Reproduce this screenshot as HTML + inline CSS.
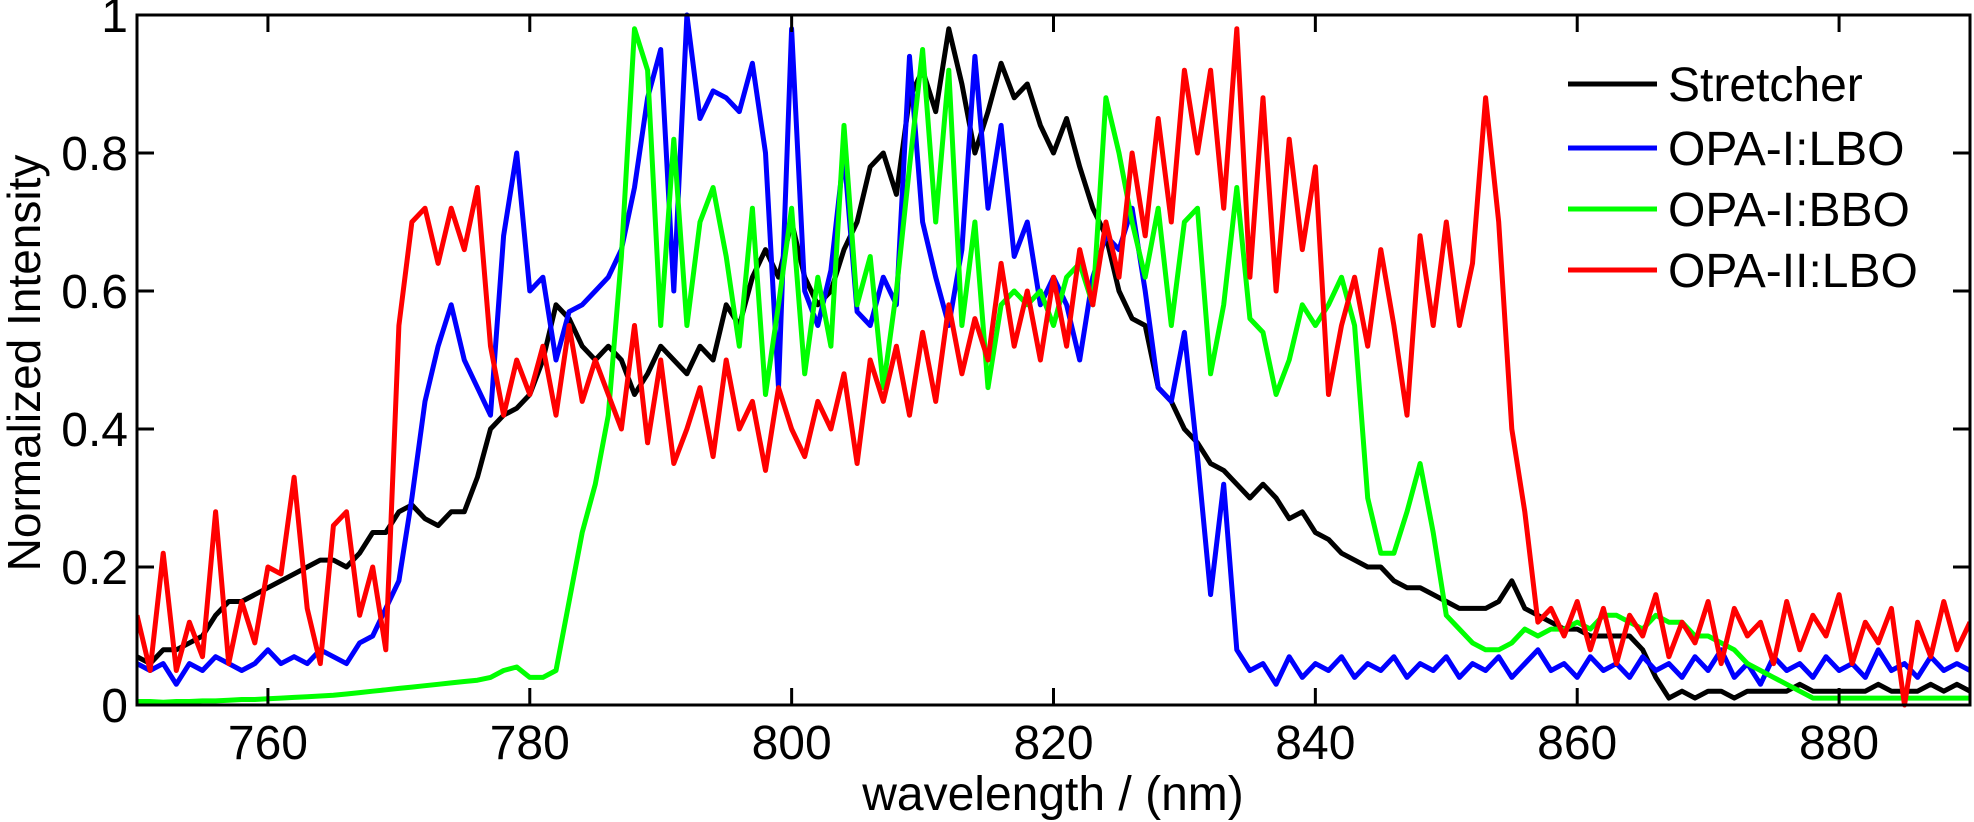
<!DOCTYPE html>
<html><head><meta charset="utf-8"><style>
html,body{margin:0;padding:0;background:#fff;}
svg{display:block;font-family:"Liberation Sans",Arial,sans-serif;}
</style></head><body>
<svg id="chart" width="1974" height="822" viewBox="0 0 1974 822" xmlns="http://www.w3.org/2000/svg">
<g id="plot"></g>
<g id="axes"></g>
<text x="1053" y="810" font-size="48" text-anchor="middle">wavelength / (nm)</text>
<text transform="translate(40,363) rotate(-90)" font-size="46" text-anchor="middle">Normalized Intensity</text>
<g id="legend"></g>
</svg>
<script>
const startNm = 750;
const xTicks = [760, 780, 800, 820, 840, 860, 880];
const yTicks = [0, 0.2, 0.4, 0.6, 0.8, 1];
const yTickLabels = ["0", "0.2", "0.4", "0.6", "0.8", "1"];
const seriesNames = ["Stretcher", "OPA-I:LBO", "OPA-I:BBO", "OPA-II:LBO"];
const seriesColors = ["#000000", "#0000ff", "#00ff00", "#ff0000"];
// values at 1 nm steps from 750 to 890
const stretcher = [0.07,0.06,0.08,0.08,0.09,0.10,0.13,0.15,0.15,0.16,0.17,0.18,0.19,0.20,0.21,0.21,0.20,0.22,0.25,0.25,0.28,0.29,0.27,0.26,0.28,0.28,0.33,0.40,0.42,0.43,0.45,0.50,0.58,0.56,0.52,0.50,0.52,0.50,0.45,0.48,0.52,0.50,0.48,0.52,0.50,0.58,0.55,0.62,0.66,0.62,0.70,0.62,0.58,0.60,0.66,0.70,0.78,0.80,0.74,0.88,0.92,0.86,0.98,0.90,0.80,0.86,0.93,0.88,0.90,0.84,0.80,0.85,0.78,0.72,0.68,0.60,0.56,0.55,0.46,0.44,0.40,0.38,0.35,0.34,0.32,0.30,0.32,0.30,0.27,0.28,0.25,0.24,0.22,0.21,0.20,0.20,0.18,0.17,0.17,0.16,0.15,0.14,0.14,0.14,0.15,0.18,0.14,0.13,0.12,0.11,0.11,0.10,0.10,0.10,0.10,0.08,0.04,0.01,0.02,0.01,0.02,0.02,0.01,0.02,0.02,0.02,0.02,0.03,0.02,0.02,0.02,0.02,0.02,0.03,0.02,0.02,0.02,0.03,0.02,0.03,0.02];
const opaILbo = [0.06,0.05,0.06,0.03,0.06,0.05,0.07,0.06,0.05,0.06,0.08,0.06,0.07,0.06,0.08,0.07,0.06,0.09,0.10,0.14,0.18,0.30,0.44,0.52,0.58,0.50,0.46,0.42,0.68,0.80,0.60,0.62,0.50,0.57,0.58,0.60,0.62,0.66,0.75,0.88,0.95,0.60,1.00,0.85,0.89,0.88,0.86,0.93,0.80,0.46,0.98,0.60,0.55,0.63,0.80,0.57,0.55,0.62,0.58,0.94,0.70,0.62,0.55,0.66,0.94,0.72,0.84,0.65,0.70,0.58,0.62,0.58,0.50,0.62,0.68,0.66,0.72,0.60,0.46,0.44,0.54,0.36,0.16,0.32,0.08,0.05,0.06,0.03,0.07,0.04,0.06,0.05,0.07,0.04,0.06,0.05,0.07,0.04,0.06,0.05,0.07,0.04,0.06,0.05,0.07,0.04,0.06,0.08,0.05,0.06,0.04,0.07,0.05,0.06,0.04,0.07,0.05,0.06,0.04,0.07,0.05,0.08,0.04,0.06,0.03,0.07,0.05,0.06,0.04,0.07,0.05,0.06,0.04,0.08,0.05,0.06,0.04,0.07,0.05,0.06,0.05];
const opaIBbo = [0.005,0.005,0.004,0.005,0.005,0.006,0.006,0.007,0.008,0.008,0.009,0.010,0.011,0.012,0.013,0.014,0.016,0.018,0.020,0.022,0.024,0.026,0.028,0.030,0.032,0.034,0.036,0.040,0.050,0.055,0.040,0.040,0.050,0.150,0.250,0.320,0.420,0.650,0.980,0.920,0.550,0.820,0.550,0.700,0.750,0.650,0.520,0.720,0.450,0.580,0.720,0.480,0.620,0.520,0.840,0.580,0.650,0.460,0.600,0.780,0.950,0.700,0.920,0.550,0.700,0.460,0.580,0.600,0.580,0.600,0.550,0.620,0.640,0.580,0.880,0.800,0.700,0.620,0.720,0.550,0.700,0.720,0.480,0.580,0.750,0.560,0.540,0.450,0.500,0.580,0.550,0.580,0.620,0.550,0.300,0.220,0.220,0.280,0.350,0.250,0.130,0.110,0.090,0.080,0.080,0.090,0.110,0.100,0.110,0.110,0.120,0.110,0.130,0.130,0.120,0.110,0.130,0.120,0.120,0.100,0.100,0.090,0.080,0.060,0.050,0.040,0.030,0.020,0.010,0.010,0.010,0.010,0.010,0.010,0.010,0.010,0.010,0.010,0.010,0.010,0.010];
const opaIILbo = [0.13,0.05,0.22,0.05,0.12,0.07,0.28,0.06,0.15,0.09,0.20,0.19,0.33,0.14,0.06,0.26,0.28,0.13,0.20,0.08,0.55,0.70,0.72,0.64,0.72,0.66,0.75,0.52,0.42,0.50,0.45,0.52,0.42,0.55,0.44,0.50,0.45,0.40,0.55,0.38,0.50,0.35,0.40,0.46,0.36,0.50,0.40,0.44,0.34,0.46,0.40,0.36,0.44,0.40,0.48,0.35,0.50,0.44,0.52,0.42,0.54,0.44,0.58,0.48,0.56,0.50,0.64,0.52,0.60,0.50,0.62,0.52,0.66,0.58,0.70,0.62,0.80,0.68,0.85,0.70,0.92,0.80,0.92,0.72,0.98,0.62,0.88,0.60,0.82,0.66,0.78,0.45,0.55,0.62,0.52,0.66,0.55,0.42,0.68,0.55,0.70,0.55,0.64,0.88,0.70,0.40,0.28,0.12,0.14,0.10,0.15,0.08,0.14,0.06,0.13,0.10,0.16,0.07,0.12,0.09,0.15,0.06,0.14,0.10,0.12,0.06,0.15,0.08,0.13,0.10,0.16,0.06,0.12,0.09,0.14,0.00,0.12,0.07,0.15,0.08,0.12];
const allSeries = [stretcher, opaILbo, opaIBbo, opaIILbo];

const X0 = 137, X1 = 1970, Y0 = 705, Y1 = 15;
const xMin = 750, xMax = 890;
function xScale(v){ return X0 + (v - xMin) / (xMax - xMin) * (X1 - X0); }
function yScale(v){ return Y0 - v * (Y0 - Y1); }
const NS = "http://www.w3.org/2000/svg";
function mk(tag, attrs, parent){ const e = document.createElementNS(NS, tag); for (const k in attrs) e.setAttribute(k, attrs[k]); parent.appendChild(e); return e; }

const plot = document.getElementById('plot');
const clip = mk('clipPath', {id:'clipArea'}, plot);
mk('rect', {x:X0, y:Y1-3, width:X1-X0, height:Y0-Y1+6}, clip);
const seriesKeys = ['stretcher-line','opa-i-lbo-line','opa-i-bbo-line','opa-ii-lbo-line'];
allSeries.forEach((arr, si) => {
  const pts = arr.map((v, i) => xScale(startNm + i).toFixed(1) + ',' + yScale(v).toFixed(1)).join(' ');
  const pl = mk('polyline', {points:pts, fill:'none', stroke:seriesColors[si], 'stroke-width':5, 'stroke-linejoin':'round', 'clip-path':'url(#clipArea)'}, plot);
  
  
});

const axes = document.getElementById('axes');
const box = mk('rect', {x:X0, y:Y1, width:X1-X0, height:Y0-Y1, fill:'none', stroke:'#000', 'stroke-width':3}, axes);


xTicks.forEach(t => {
  const x = xScale(t);
  const tb = mk('line', {x1:x, x2:x, y1:Y0, y2:Y0-17, stroke:'#000', 'stroke-width':3}, axes);
  
  
  const tt = mk('line', {x1:x, x2:x, y1:Y1, y2:Y1+17, stroke:'#000', 'stroke-width':3}, axes);
  
  
  const lb = mk('text', {x:x, y:759, 'font-size':48, 'text-anchor':'middle'}, axes);
  lb.textContent = String(t);
  
  
});
yTicks.forEach((t, i) => {
  const y = yScale(t);
  const tl = mk('line', {x1:X0, x2:X0+17, y1:y, y2:y, stroke:'#000', 'stroke-width':3}, axes);
  
  
  const tr = mk('line', {x1:X1, x2:X1-17, y1:y, y2:y, stroke:'#000', 'stroke-width':3}, axes);
  
  
  const lb = mk('text', {x:128, y:y+17, 'font-size':48, 'text-anchor':'end'}, axes);
  lb.textContent = yTickLabels[i];
  
  
});

const legend = document.getElementById('legend');
const legendRows = [84, 148, 209, 270];
seriesNames.forEach((n, i) => {
  const g = mk('g', {}, legend);
  
  
  mk('line', {x1:1568, x2:1657, y1:legendRows[i], y2:legendRows[i], stroke:seriesColors[i], 'stroke-width':5}, g);
  const t = mk('text', {x:1668, y:legendRows[i]+17, 'font-size':48}, g);
  t.textContent = n;
});
</script>
</body></html>
